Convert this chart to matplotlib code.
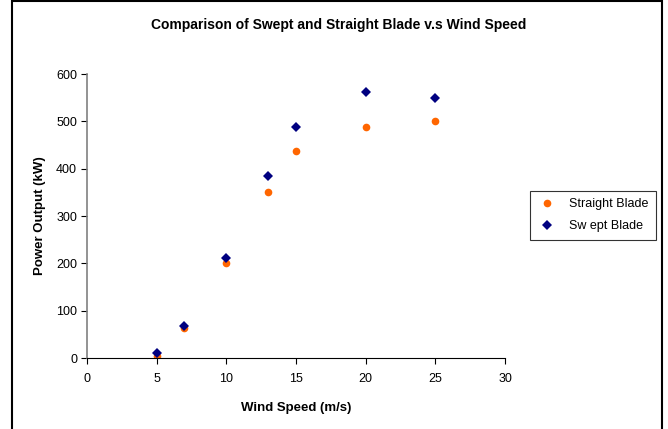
import matplotlib.pyplot as plt
from matplotlib.patches import Rectangle

plt.rcParams['font.family'] = ['Liberation Sans', 'DejaVu Sans']

wind_speed = [5, 7, 10, 13, 15, 20, 25]
straight_blade = [5, 64, 201, 350, 438, 488, 501]
swept_blade = [10, 68, 211, 385, 489, 562, 550]

fig = plt.figure(figsize=(6.68, 4.29), dpi=100)
ax = fig.add_axes([0.130, 0.1655, 0.626, 0.662])

ax.plot(wind_speed, straight_blade, 'o', color='#FF6600', markersize=5.5,
        markeredgewidth=0, label='Straight Blade')
ax.plot(wind_speed, swept_blade, 'D', color='#000080', markersize=5.2,
        markeredgewidth=0, label='Sw ept Blade')

ax.set_xlim(0, 30)
ax.set_ylim(0, 600)
ax.set_xticks(range(0, 31, 5))
ax.set_yticks(range(0, 601, 100))
ax.spines['top'].set_visible(False)
ax.spines['right'].set_visible(False)
ax.spines['left'].set_color('#808080')
ax.spines['left'].set_linewidth(1.2)
ax.spines['bottom'].set_color('black')
ax.tick_params(labelsize=9, length=4, width=0.8)
ax.tick_params(axis='x', pad=7)
ax.tick_params(axis='y', pad=3)

ax.set_xlabel('Wind Speed (m/s)', fontsize=9.5, fontweight='bold', labelpad=12)
ax.set_ylabel('Power Output (kW)', fontsize=9.5, fontweight='bold', labelpad=7)

fig.text(0.507, 0.941, 'Comparison of Swept and Straight Blade v.s Wind Speed',
         ha='center', va='center', fontsize=10, fontweight='bold')

leg = fig.legend(loc='center', bbox_to_anchor=(0.888, 0.498), fontsize=9,
                 frameon=True, fancybox=False, edgecolor='black',
                 handletextpad=1.0, borderpad=0.6, labelspacing=0.8,
                 handlelength=1.5)
leg.get_frame().set_linewidth(0.8)

# outer chart frame
fig.patches.append(Rectangle((12 / 668, -0.05), 650 / 668, 1.047,
                             transform=fig.transFigure, fill=False,
                             edgecolor='black', linewidth=1.5))

fig.savefig('out.png', dpi=100)
